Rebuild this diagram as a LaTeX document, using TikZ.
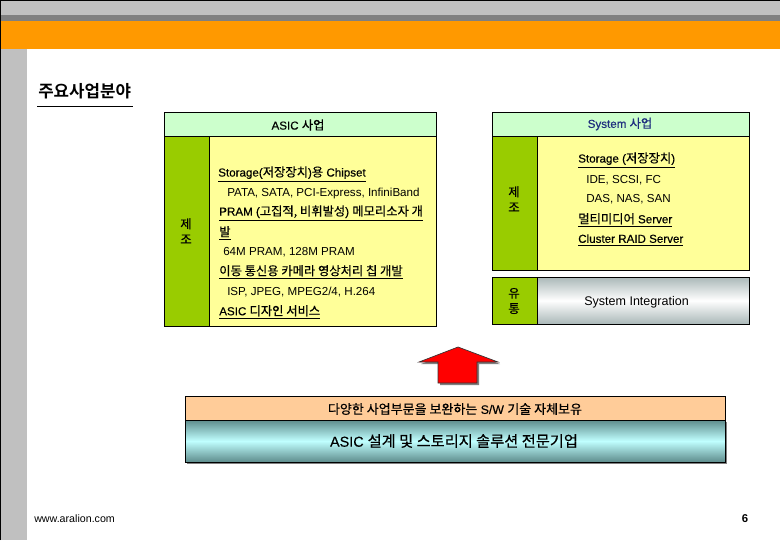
\documentclass[tikz,border=0pt]{standalone}
\usepackage{fontspec}
\setmainfont{Liberation Sans}
\newfontfamily\krfont[Scale=1.06]{Noto Sans CJK KR}
\newfontfamily\latb[FakeBold=0.35]{Liberation Sans}
\newfontfamily\krb[Scale=1.06,FakeBold=0.45]{Noto Sans CJK KR}
\newfontfamily\krtitle[BoldFont={Noto Sans CJK KR Bold}]{Noto Sans CJK KR}
\newcommand{\K}[1]{{\krfont #1}}
\newcommand{\B}[1]{{\krb #1}}
\definecolor{hdr}{HTML}{CCFFCC}
\definecolor{lime}{HTML}{99CC00}
\definecolor{paleY}{HTML}{FFFF99}
\definecolor{barGray}{HTML}{C0C0C0}
\definecolor{barDark}{HTML}{808080}
\definecolor{barOrange}{HTML}{FF9900}
\definecolor{peach}{HTML}{FFCC99}
\definecolor{navy}{HTML}{1F2F7F}
\definecolor{tealEdge}{HTML}{5E8C8C}
\definecolor{tealMid}{HTML}{C0FFFF}
\definecolor{siEdge}{HTML}{AAB8B8}
\tikzset{
  box/.style={draw=black,line width=0.75pt},
  lab/.style={inner sep=0pt,anchor=west,font=\fontsize{8.7}{10}\selectfont},
  hd/.style={inner sep=0pt,anchor=west,font=\fontsize{8.7}{10}\selectfont\latb},
  vlab/.style={inner sep=0pt,anchor=center,align=center,font=\fontsize{8.7}{11.5}\selectfont\latb},
}
\begin{document}
\begin{tikzpicture}[x=0.75pt,y=-0.75pt]
\useasboundingbox (0,0) rectangle (780,540);
\fill[white] (0,0) rectangle (780,540);
% slide frame
\fill[barGray] (0,0) rectangle (780,15);
\fill[barDark] (0,15) rectangle (780,21);
\fill[barOrange] (0,21) rectangle (780,49);
\fill[barGray] (0,49) rectangle (27,540);
\draw[black,line width=0.75pt] (0.4,540) -- (0.4,0.4) -- (780,0.4);
% title
\node[inner sep=0pt,anchor=west,font=\fontsize{12.6}{14}\selectfont\krtitle\bfseries] (title) at (38,91) {주요사업분야};
\draw[black,line width=0.6pt] (37,106.5) -- (133,106.5);
% ASIC block
\draw[box,fill=hdr] (164,112) rectangle (436,136);
\draw[box,fill=paleY] (209,136) rectangle (436,326);
\draw[box,fill=lime] (164,136) rectangle (209,326);
\node[vlab] (asich) at (298,125) {ASIC \B{사업}};
\node[vlab] (mfg1) at (186,231) {\B{제}\\\B{조}};
\node[hd] (a1) at (218,174) {\underline{Storage(\B{저장장치})\B{용} Chipset}};
\node[lab] (a2) at (227,193) {PATA, SATA, PCI-Express, InfiniBand};
\node[hd] (a3) at (219,213) {\underline{PRAM (\B{고집적, 비휘발성}) \B{메모리소자 개}}};
\node[hd] (a4) at (219,233) {\underline{\B{발}}};
\node[lab] (a5) at (223,252) {64M PRAM, 128M PRAM};
\node[hd] (a6) at (219,272) {\underline{\B{이동 통신용 카메라 영상처리 칩 개발}}};
\node[lab] (a7) at (227,292) {ISP, JPEG, MPEG2/4, H.264};
\node[hd] (a8) at (219,312) {\underline{ASIC \B{디자인 서비스}}};
% System block
\draw[box,fill=hdr] (492,112) rectangle (749,136);
\draw[box,fill=paleY] (537,136) rectangle (749,270);
\draw[box,fill=lime] (492,136) rectangle (537,270);
\node[vlab,text=navy] (sysh) at (620,124) {System \B{사업}};
\node[vlab] (mfg2) at (514,199) {\B{제}\\\B{조}};
\node[hd] (s1) at (578,160) {\underline{Storage (\B{저장장치})}};
\node[lab] (s2) at (586,180) {IDE, SCSI, FC};
\node[lab] (s3) at (586,199) {DAS, NAS, SAN};
\node[hd] (s4) at (578,220) {\underline{\B{멀티미디어} Server}};
\node[hd] (s5) at (578,240) {\underline{Cluster RAID Server}};
% SI block
\shade[top color=siEdge,bottom color=siEdge,middle color=white] (537,277) rectangle (749,324);
\draw[box] (537,277) rectangle (749,324);
\draw[box,fill=lime] (492,277) rectangle (537,324);
\node[vlab] (dist) at (514,301) {\B{유}\\\B{통}};
\node[lab,font=\fontsize{9.4}{11}\selectfont] (si) at (584,302) {System Integration};
% arrow
\fill[barDark] (460,349) -- (500,364) -- (479,364) -- (479,385) -- (440,385) -- (440,364) -- (421,364) -- cycle;
\draw[draw=black!80,line width=0.5pt,fill=red] (458,347) -- (498,362) -- (477,362) -- (477,383) -- (438,383) -- (438,362) -- (419,362) -- cycle;
% bottom boxes
\fill[barDark] (187,422) rectangle (727,464);
\shade[top color=tealEdge,bottom color=tealEdge,middle color=tealMid] (185,420) rectangle (725,462);
\draw[box] (185,420) rectangle (725,462);
\draw[box,fill=peach] (185,396) rectangle (725,420);
\node[vlab,font=\fontsize{9.2}{11}\selectfont\latb] (sw) at (455,409) {\B{다양한 사업부문을 보완하는} S/W \B{기술 자체보유}};
\node[vlab,font=\fontsize{10.8}{12}\selectfont\latb] (core) at (454,441) {ASIC \B{설계 및 스토리지 솔루션 전문기업}};
% footer
\node[lab,font=\fontsize{8}{9}\selectfont] (web) at (34,519) {www.aralion.com};
\node[vlab,font=\fontsize{8.5}{9}\selectfont\bfseries] (pg) at (745,519) {6};
\end{tikzpicture}
\end{document}
